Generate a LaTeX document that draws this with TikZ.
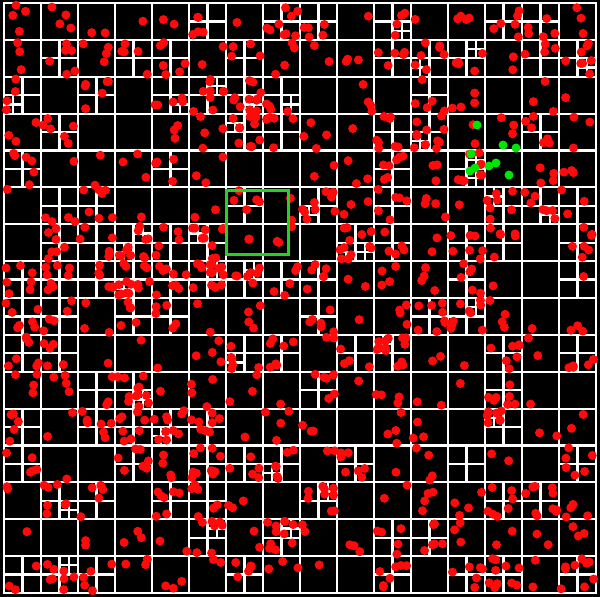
\documentclass[tikz,border=0pt]{standalone}
\pgfdeclarelayer{bg}
\pgfdeclarelayer{bgfill}
\pgfsetlayers{bgfill,bg,main}
\definecolor{qgreenline}{RGB}{35,210,35}
\definecolor{qgreendot}{RGB}{0,230,0}
\definecolor{qred}{RGB}{255,10,10}
\tikzset{
  qline/.style={draw=white, line width=2.2pt, line cap=rect},
  qdot/.style={fill=qred},
  gdot/.style={fill=qgreendot},
  qrange/.style={draw=qgreenline, line width=3pt}
}
\newcommand\qcell[5]{%
  \pgfmathrandominteger{\qr}{0}{99}%
  \ifcase#5\relax \def\qthr{40}\or \def\qthr{9}\else \def\qthr{0}\fi
  \ifnum\qr<\qthr\relax
    \pgfmathsetmacro\qhw{#3/2}%
    \pgfmathsetmacro\qhh{#4/2}%
    \pgfmathsetmacro\qmx{#1+\qhw}%
    \pgfmathsetmacro\qmy{#2+\qhh}%
    \pgfmathsetmacro\qex{#1+#3}%
    \pgfmathsetmacro\qey{#2+#4}%
    \pgfmathtruncatemacro\qnd{#5+1}%
    \begin{pgfonlayer}{bg}
      \draw[qline] (\qmx,#2) -- (\qmx,\qey) (#1,\qmy) -- (\qex,\qmy);
    \end{pgfonlayer}%
    \edef\qnext{%
      \noexpand\qcell{#1}{#2}{\qhw}{\qhh}{\qnd}%
      \noexpand\qcell{\qmx}{#2}{\qhw}{\qhh}{\qnd}%
      \noexpand\qcell{#1}{\qmy}{\qhw}{\qhh}{\qnd}%
      \noexpand\qcell{\qmx}{\qmy}{\qhw}{\qhh}{\qnd}}%
    \qnext
  \else
    \ifcase#5\relax \pgfmathrandominteger{\qk}{0}{4}\or \pgfmathrandominteger{\qk}{0}{3}\else \pgfmathrandominteger{\qk}{0}{2}\fi
    \ifnum\qk>0
      \foreach \qi in {1,...,\qk}{%
        \pgfmathsetmacro\qpx{#1+2+rnd*(#3-4)}%
        \pgfmathsetmacro\qpy{#2+2+rnd*(#4-4)}%
        \fill[qdot] (\qpx,\qpy) circle[radius=4.5pt];
      }%
    \fi
  \fi
}
\begin{document}
\begin{tikzpicture}[x=1pt,y=-1pt]
  \begin{pgfonlayer}{bgfill}
    \fill[black] (0,0) rectangle (600,597);
  \end{pgfonlayer}
  \useasboundingbox (0,0) rectangle (600,597);
  \pgfmathsetseed{4242}
  % top-level grid
  \begin{pgfonlayer}{bg}
    \foreach \gi in {0,...,16}{
      \pgfmathsetmacro\gx{4+\gi*37}
      \pgfmathsetmacro\gy{3+\gi*36.875}
      \draw[qline] (\gx,3) -- (\gx,593);
      \draw[qline] (4,\gy) -- (596,\gy);
    }
  \end{pgfonlayer}
  \foreach \cx in {0,...,15}{
    \foreach \cy in {0,...,15}{
      \pgfmathsetmacro\cX{4+\cx*37}
      \pgfmathsetmacro\cY{3+\cy*36.875}
      \qcell{\cX}{\cY}{37}{36.875}{0}
    }
  }
  % query range
  \draw[qrange] (226,190) rectangle (288,254);
  % found points
  \foreach \gx/\gy in {477/125,503/145,516/148,471/154,470/171,475/168,489/166,496/163,509/175}{
    \fill[gdot] (\gx,\gy) circle[radius=4.5pt];
  }
\end{tikzpicture}
\end{document}
